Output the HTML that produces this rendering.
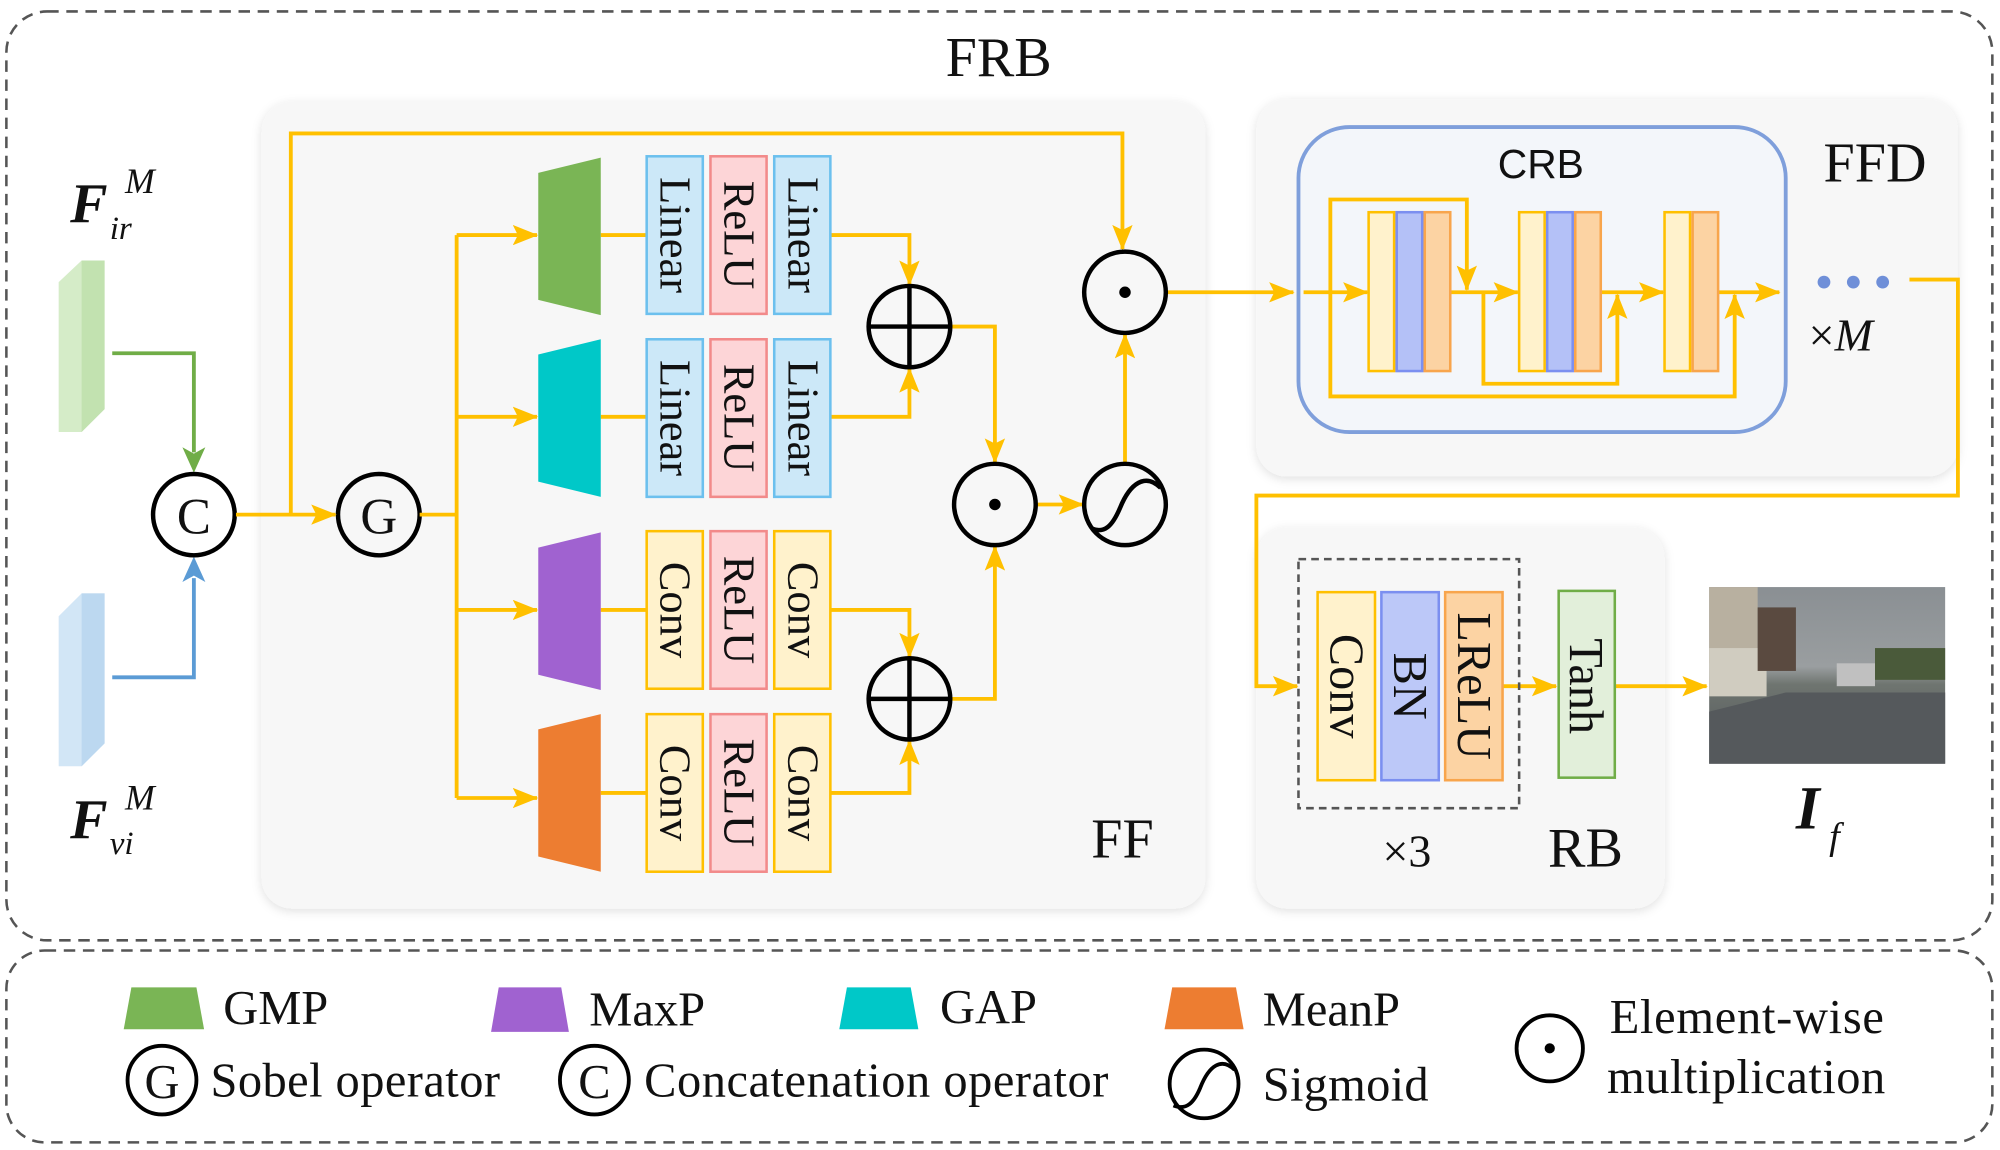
<!DOCTYPE html>
<html><head><meta charset="utf-8"><style>
html,body{margin:0;padding:0;background:#fff;}
svg{display:block;}
text{font-family:"Liberation Serif",serif;fill:#111;}
</style></head><body>
<svg width="2000" height="1150" viewBox="0 0 1568 905" preserveAspectRatio="none" xmlns="http://www.w3.org/2000/svg">
<defs>
<marker id="a" viewBox="0 0 20 16" refX="19" refY="8" markerWidth="20" markerHeight="16" markerUnits="userSpaceOnUse" orient="auto">
<path d="M0,0 L20,8 L0,16 L4,8 Z" fill="#FFC000"/></marker>
<filter id="sh" x="-5%" y="-5%" width="110%" height="110%"><feDropShadow dx="0" dy="2" stdDeviation="4" flood-color="#000" flood-opacity="0.12"/></filter>
<linearGradient id="sky" x1="0" y1="0" x2="0" y2="1">
<stop offset="0" stop-color="#8a8f93"/><stop offset="0.45" stop-color="#9a9ea0"/><stop offset="0.55" stop-color="#6f7570"/><stop offset="1" stop-color="#4f5458"/></linearGradient>
</defs>
<rect x="0" y="0" width="1568" height="905" fill="#fff"/>
<rect x="5" y="9" width="1557" height="731" rx="32" fill="none" stroke="#555" stroke-width="2" stroke-dasharray="9,6"/>
<rect x="5" y="748" width="1557" height="151" rx="30" fill="none" stroke="#555" stroke-width="2" stroke-dasharray="9,6"/>
<text x="783" y="60" font-size="44" text-anchor="middle">FRB</text>

<rect x="205" y="80" width="740" height="635" rx="24" fill="#f7f7f7" filter="url(#sh)"/>
<rect x="985" y="78" width="550" height="297" rx="24" fill="#f7f7f7" filter="url(#sh)"/>
<rect x="985" y="415" width="320" height="300" rx="24" fill="#f7f7f7" filter="url(#sh)"/>

<polygon points="46,222 64,205 82,205 82,322 64,340 46,340" fill="#d5ecc8"/>
<polygon points="64,205 82,205 82,322 64,340" fill="#c2e2b0"/>
<polygon points="46,485 64,467 82,467 82,585 64,603 46,603" fill="#d2e6f6"/>
<polygon points="64,467 82,467 82,585 64,603" fill="#bcd8f0"/>
<text x="55" y="175" font-size="44" font-weight="bold" font-style="italic">F</text>
<text x="98" y="152" font-size="28" font-style="italic">M</text>
<text x="86" y="188" font-size="26" font-style="italic">ir</text>
<text x="55" y="660" font-size="44" font-weight="bold" font-style="italic">F</text>
<text x="98" y="637" font-size="28" font-style="italic">M</text>
<text x="86" y="672" font-size="26" font-style="italic">vi</text>

<polyline points="88,278 152,278 152,356" fill="none" stroke="#70ad47" stroke-width="3"/>
<polyline points="88,533 152,533 152,455" fill="none" stroke="#5b9bd5" stroke-width="3"/>
<path d="M143,352 L152,372 L161,352 L152,357 Z" fill="#70ad47"/>
<path d="M143,458 L152,438 L161,458 L152,453 Z" fill="#5b9bd5"/>

<g fill="none" stroke="#000" stroke-width="3.5">
<circle cx="152" cy="405" r="32"/>
<circle cx="297" cy="405" r="32"/>
</g>
<text x="152" y="420" font-size="40" text-anchor="middle">C</text>
<text x="297" y="420" font-size="40" text-anchor="middle">G</text>

<g fill="none" stroke="#FFC000" stroke-width="3">
<line x1="185" y1="405" x2="263" y2="405" marker-end="url(#a)"/>
<polyline points="228,405 228,105 880,105 880,196" marker-end="url(#a)"/>
<line x1="329" y1="405" x2="358" y2="405"/>
<line x1="358" y1="185" x2="358" y2="628"/>
<line x1="358" y1="185" x2="421" y2="185" marker-end="url(#a)"/>
<line x1="358" y1="328" x2="421" y2="328" marker-end="url(#a)"/>
<line x1="358" y1="480" x2="421" y2="480" marker-end="url(#a)"/>
<line x1="358" y1="628" x2="421" y2="628" marker-end="url(#a)"/>
<line x1="471" y1="185" x2="507" y2="185"/>
<line x1="471" y1="328" x2="507" y2="328"/>
<line x1="471" y1="480" x2="507" y2="480"/>
<line x1="471" y1="624" x2="507" y2="624"/>
<polyline points="651,185 713,185 713,224" marker-end="url(#a)"/>
<polyline points="651,328 713,328 713,290" marker-end="url(#a)"/>
<polyline points="651,480 713,480 713,517" marker-end="url(#a)"/>
<polyline points="651,624 713,624 713,583" marker-end="url(#a)"/>
<polyline points="745,257 780,257 780,364" marker-end="url(#a)"/>
<polyline points="745,550 780,550 780,430" marker-end="url(#a)"/>
<line x1="812" y1="397" x2="849" y2="397" marker-end="url(#a)"/>
<line x1="882" y1="364" x2="882" y2="263" marker-end="url(#a)"/>
<line x1="914" y1="230" x2="1014" y2="230" marker-end="url(#a)"/>
<polyline points="1497,220 1535,220 1535,390 985,390 985,540 1017,540" marker-end="url(#a)"/>
<line x1="1178" y1="540" x2="1220" y2="540" marker-end="url(#a)"/>
<line x1="1266" y1="540" x2="1338" y2="540" marker-end="url(#a)"/>
</g>

<polygon points="422,136 471,124 471,248 422,236" fill="#7ab555"/>
<polygon points="422,279 471,267 471,391 422,379" fill="#00c8c8"/>
<polygon points="422,431 471,419 471,543 422,531" fill="#a062d0"/>
<polygon points="422,574 471,562 471,686 422,674" fill="#ed7d31"/>

<g stroke-width="2">
<rect x="507" y="123" width="44" height="124" fill="#cce8f8" stroke="#6cc0ee"/>
<rect x="557" y="123" width="44" height="124" fill="#fdd5d7" stroke="#f28a8a"/>
<rect x="607" y="123" width="44" height="124" fill="#cce8f8" stroke="#6cc0ee"/>
<rect x="507" y="267" width="44" height="124" fill="#cce8f8" stroke="#6cc0ee"/>
<rect x="557" y="267" width="44" height="124" fill="#fdd5d7" stroke="#f28a8a"/>
<rect x="607" y="267" width="44" height="124" fill="#cce8f8" stroke="#6cc0ee"/>
<rect x="507" y="418" width="44" height="124" fill="#fff2cc" stroke="#ffc000"/>
<rect x="557" y="418" width="44" height="124" fill="#fdd5d7" stroke="#f28a8a"/>
<rect x="607" y="418" width="44" height="124" fill="#fff2cc" stroke="#ffc000"/>
<rect x="507" y="562" width="44" height="124" fill="#fff2cc" stroke="#ffc000"/>
<rect x="557" y="562" width="44" height="124" fill="#fdd5d7" stroke="#f28a8a"/>
<rect x="607" y="562" width="44" height="124" fill="#fff2cc" stroke="#ffc000"/>
</g>
<g font-size="35" text-anchor="middle">
<text transform="translate(518,185) rotate(90)">Linear</text>
<text transform="translate(568,185) rotate(90)">ReLU</text>
<text transform="translate(618,185) rotate(90)">Linear</text>
<text transform="translate(518,329) rotate(90)">Linear</text>
<text transform="translate(568,329) rotate(90)">ReLU</text>
<text transform="translate(618,329) rotate(90)">Linear</text>
<text transform="translate(518,480) rotate(90)">Conv</text>
<text transform="translate(568,480) rotate(90)">ReLU</text>
<text transform="translate(618,480) rotate(90)">Conv</text>
<text transform="translate(518,624) rotate(90)">Conv</text>
<text transform="translate(568,624) rotate(90)">ReLU</text>
<text transform="translate(618,624) rotate(90)">Conv</text>
</g>

<g fill="none" stroke="#000" stroke-width="3.5">
<circle cx="713" cy="257" r="32"/><line x1="681" y1="257" x2="745" y2="257"/><line x1="713" y1="225" x2="713" y2="289"/>
<circle cx="713" cy="550" r="32"/><line x1="681" y1="550" x2="745" y2="550"/><line x1="713" y1="518" x2="713" y2="582"/>
<circle cx="780" cy="397" r="32"/>
<circle cx="882" cy="230" r="32"/>
<circle cx="882" cy="397" r="32"/>
<path d="M856,416 C866,420 872,414 878,400 C886,380 898,372 910,384"/>
</g>
<circle cx="780" cy="397" r="4.5" fill="#000"/>
<circle cx="882" cy="230" r="4.5" fill="#000"/>
<text x="880" y="675" font-size="44" text-anchor="middle">FF</text>

<text x="1470" y="143" font-size="44" text-anchor="middle">FFD</text>
<rect x="1018" y="100" width="382" height="240" rx="40" fill="#f3f6fa" stroke="#7f9fdb" stroke-width="3"/>
<text x="1208" y="140" font-size="32" text-anchor="middle" style="font-family:'Liberation Sans',sans-serif">CRB</text>
<g fill="none" stroke="#FFC000" stroke-width="3">
<line x1="1022" y1="230" x2="1072" y2="230" marker-end="url(#a)"/>
<polyline points="1043,230 1043,157 1150,157 1150,228" marker-end="url(#a)"/>
<polyline points="1043,230 1043,312 1360,312 1360,232" marker-end="url(#a)"/>
<line x1="1137" y1="230" x2="1190" y2="230" marker-end="url(#a)"/>
<polyline points="1163,230 1163,302 1268,302 1268,232" marker-end="url(#a)"/>
<line x1="1255" y1="230" x2="1304" y2="230" marker-end="url(#a)"/>
<line x1="1347" y1="230" x2="1395" y2="230" marker-end="url(#a)"/>
</g>
<g stroke-width="2">
<rect x="1073" y="167" width="20" height="125" fill="#fff2cc" stroke="#ffc000"/>
<rect x="1095" y="167" width="20" height="125" fill="#b4c1f7" stroke="#7b8ff0"/>
<rect x="1117" y="167" width="20" height="125" fill="#fcd3a3" stroke="#f8a54c"/>
<rect x="1191" y="167" width="20" height="125" fill="#fff2cc" stroke="#ffc000"/>
<rect x="1213" y="167" width="20" height="125" fill="#b4c1f7" stroke="#7b8ff0"/>
<rect x="1235" y="167" width="20" height="125" fill="#fcd3a3" stroke="#f8a54c"/>
<rect x="1305" y="167" width="20" height="125" fill="#fff2cc" stroke="#ffc000"/>
<rect x="1327" y="167" width="20" height="125" fill="#fcd3a3" stroke="#f8a54c"/>
</g>
<g fill="#6f8fd8"><circle cx="1430" cy="222" r="5"/><circle cx="1453" cy="222" r="5"/><circle cx="1476" cy="222" r="5"/></g>
<text x="1418" y="276" font-size="36">×<tspan font-style="italic">M</tspan></text>

<rect x="1018" y="440" width="173" height="196" fill="none" stroke="#555" stroke-width="2" stroke-dasharray="6,4"/>
<g stroke-width="2">
<rect x="1033" y="466" width="45" height="148" fill="#fff2cc" stroke="#ffc000"/>
<rect x="1083" y="466" width="45" height="148" fill="#bcc8f8" stroke="#7b8ff0"/>
<rect x="1133" y="466" width="45" height="148" fill="#fcd3a3" stroke="#f8a54c"/>
<rect x="1222" y="465" width="44" height="147" fill="#e2efda" stroke="#70ad47"/>
</g>
<g font-size="38" text-anchor="middle">
<text transform="translate(1043,540) rotate(90)">Conv</text>
<text transform="translate(1093,540) rotate(90)">BN</text>
<text transform="translate(1143,540) rotate(90)">LReLU</text>
<text transform="translate(1231,540) rotate(90)">Tanh</text>
</g>
<text x="1103" y="682" font-size="36" text-anchor="middle">×3</text>
<text x="1243" y="682" font-size="44" text-anchor="middle">RB</text>

<rect x="1340" y="462" width="185" height="139" fill="url(#sky)"/>
<rect x="1340" y="462" width="38" height="60" fill="#b8b0a0"/>
<rect x="1340" y="510" width="45" height="38" fill="#d0ccc0"/>
<rect x="1378" y="478" width="30" height="50" fill="#5a4a40"/>
<rect x="1470" y="510" width="55" height="25" fill="#4a5a3a"/>
<rect x="1440" y="522" width="30" height="18" fill="#c0c0c0"/>
<polygon points="1340,560 1400,545 1525,545 1525,601 1340,601" fill="#55595c"/>
<text x="1408" y="652" font-size="48" font-weight="bold" font-style="italic">I</text>
<text x="1434" y="668" font-size="30" font-style="italic">f</text>

<polygon points="103,777 154,777 160,810 97,810" fill="#7ab555"/>
<polygon points="391,777 440,777 446,812 385,812" fill="#a062d0"/>
<polygon points="664,777 714,777 720,810 658,810" fill="#00c8c8"/>
<polygon points="919,777 969,777 975,810 913,810" fill="#ed7d31"/>
<g font-size="38">
<text x="175" y="806">GMP</text>
<text x="462" y="807">MaxP</text>
<text x="737" y="805">GAP</text>
<text x="990" y="807">MeanP</text>
<text x="1262" y="813" textLength="215">Element-wise</text>
<text x="1260" y="860" textLength="218">multiplication</text>
<text x="165" y="863" textLength="227">Sobel operator</text>
<text x="505" y="863" textLength="364">Concatenation operator</text>
<text x="990" y="866" textLength="130">Sigmoid</text>
<text x="127" y="864" text-anchor="middle">G</text>
<text x="466" y="864" text-anchor="middle">C</text>
</g>
<g fill="none" stroke="#000" stroke-width="3">
<circle cx="1215" cy="825" r="26"/>
<circle cx="127" cy="850" r="27"/>
<circle cx="466" cy="850" r="27"/>
<circle cx="944" cy="853" r="27"/>
<path d="M920,870 C930,874 936,868 941,856 C948,838 958,832 968,842"/>
</g>
<circle cx="1215" cy="825" r="4" fill="#000"/>
</svg>
</body></html>
